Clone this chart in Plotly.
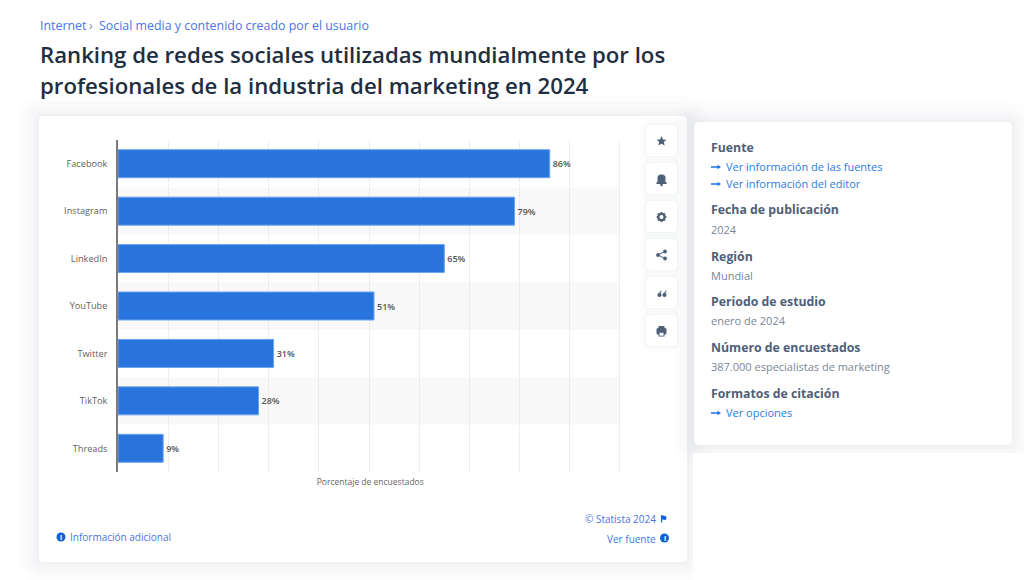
# Ranking de redes sociales - marketing 2024
import math
import plotly.graph_objects as go

W = 1024
H = 580

redes = ["Facebook", "Instagram", "LinkedIn", "YouTube", "Twitter", "TikTok", "Threads"]
porcentajes = [86, 79, 65, 51, 31, 28, 9]

titulo = ["Ranking de redes sociales utilizadas mundialmente por los",
          "profesionales de la industria del marketing en 2024"]

# (text, y on screen, kind)
ficha = [
    ("Fuente", 147, "h"),
    ("Ver información de las fuentes", 167, "l"),
    ("Ver información del editor", 184, "l"),
    ("Fecha de publicación", 210, "h"),
    ("2024", 229.5, "t"),
    ("Región", 256, "h"),
    ("Mundial", 275.5, "t"),
    ("Periodo de estudio", 301, "h"),
    ("enero de 2024", 321, "t"),
    ("Número de encuestados", 347, "h"),
    ("387.000 especialistas de marketing", 367, "t"),
    ("Formatos de citación", 393, "h"),
    ("Ver opciones", 413, "l"),
]

FONT = "Open Sans"
BLUE = "#2874dc"
LINK = "#4a74e4"
SLATE = "#4f6078"


def px(x):
    return x / W


def py(y):
    return 1 - y / H


def round_rect(x0, y0, x1, y1, r):
    # rounded box given in screen pixels
    return (
        f"M{px(x0 + r)},{py(y0)} L{px(x1 - r)},{py(y0)} Q{px(x1)},{py(y0)} {px(x1)},{py(y0 + r)} "
        f"L{px(x1)},{py(y1 - r)} Q{px(x1)},{py(y1)} {px(x1 - r)},{py(y1)} "
        f"L{px(x0 + r)},{py(y1)} Q{px(x0)},{py(y1)} {px(x0)},{py(y1 - r)} "
        f"L{px(x0)},{py(y0 + r)} Q{px(x0)},{py(y0)} {px(x0 + r)},{py(y0)} Z"
    )


def poly(points):
    return "M" + " L".join(f"{px(a)},{py(b)}" for a, b in points) + " Z"


def card(x0, y0, x1, y1, r=5, layers=((20, 0.012), (14, 0.014), (9, 0.016), (5, 0.018), (2, 0.02))):
    shapes = []
    # soft shadow, a few stacked boxes
    for s, alpha in layers:
        shapes.append(dict(type="path", path=round_rect(x0 - s, y0 - s, x1 + s, y1 + s, r + s),
                           xref="paper", yref="paper", layer="below", line_width=0,
                           fillcolor=f"rgba(60,80,120,{alpha})"))
    shapes.append(dict(type="path", path=round_rect(x0, y0, x1, y1, r), xref="paper", yref="paper",
                       layer="below", line_width=0, fillcolor="white"))
    return shapes


def icon(path, color=SLATE):
    return dict(type="path", path=path, xref="paper", yref="paper", layer="above",
                line_width=0, fillcolor=color)


def note(x, y, text, size, color, anchor="left", weight=None):
    # annotations carry about 2px of padding on their anchored side
    off = {"left": -2, "right": 2, "center": 0}[anchor]
    return dict(x=px(x + off), y=py(y), xref="paper", yref="paper", text=text, showarrow=False,
                xanchor=anchor, yanchor="middle", align=anchor,
                font=dict(family=FONT, size=size, color=color, weight=weight))


def circle_icon(x, y, r, color):
    return dict(type="circle", xref="paper", yref="paper", x0=px(x - r), x1=px(x + r),
                y0=py(y + r), y1=py(y - r), line_width=0, fillcolor=color, layer="above")


fig = go.Figure()

fig.add_trace(go.Bar(
    y=redes,
    x=porcentajes,
    orientation="h",
    marker=dict(color=BLUE, line=dict(color="#6ba3ee", width=1)),
    text=[f"{v}%" for v in porcentajes],
    textposition="outside",
    cliponaxis=False,
    textfont=dict(family=FONT, size=9, color="#555555", weight=600),
    hoverinfo="skip",
))

shapes = []
shapes += card(39, 116, 687, 562)
shapes += card(694, 122, 1012, 445)
# the area under the side panel stays plain white in the source page
shapes.append(dict(type="rect", xref="paper", yref="paper", x0=px(693), x1=1, y0=0, y1=py(453),
                   layer="below", line_width=0, fillcolor="white"))

# zebra rows behind the bars
for i in range(1, len(redes), 2):
    shapes.append(dict(type="rect", xref="x", yref="y", x0=0, x1=100, y0=i - 0.5, y1=i + 0.5,
                       layer="below", line_width=0, fillcolor="#f9f9fa"))

# toolbar buttons
button_y = [141, 179, 217, 255, 293, 331]
for by in button_y:
    shapes += card(646, by - 16, 677, by + 15, r=4, layers=((6, 0.008), (4, 0.012), (2, 0.016), (1, 0.02)))

sx, sy = 661.5, 141
shapes.append(icon(poly([(sx, sy - 5), (sx + 1.5, sy - 1.6), (sx + 5, sy - 1.3), (sx + 2.3, sy + 1),
                         (sx + 3.2, sy + 4.6), (sx, sy + 2.7), (sx - 3.2, sy + 4.6), (sx - 2.3, sy + 1),
                         (sx - 5, sy - 1.3), (sx - 1.5, sy - 1.6)])))
# bell
shapes.append(icon(round_rect(657.5, 174.5, 665.5, 184, 3.5)))
shapes.append(icon(poly([(656.5, 184), (666.5, 184), (666.5, 182), (656.5, 182)])))
shapes.append(circle_icon(661.5, 185, 1.3, SLATE))
# gear
gear = []
for k in range(16):
    a = k * math.pi / 8
    rad = 5.3 if k % 2 == 0 else 4.2
    gear.append((661.5 + rad * math.cos(a), 217 + rad * math.sin(a)))
shapes.append(icon(poly(gear)))
shapes.append(circle_icon(661.5, 217, 2, "white"))
# share
for cx, cy in ((665, 251.5), (658, 255), (665, 258.5)):
    shapes.append(circle_icon(cx, cy, 1.9, SLATE))
shapes.append(dict(type="path", path=f"M{px(665)},{py(251.5)} L{px(658)},{py(255)} L{px(665)},{py(258.5)}",
                   xref="paper", yref="paper", layer="above", line=dict(color=SLATE, width=1)))
# quotes
for qx in (657.5, 662.5):
    shapes.append(circle_icon(qx + 2, 295, 2.1, SLATE))
    shapes.append(icon(poly([(qx, 295), (qx + 3.8, 290), (qx + 3.8, 291.5), (qx + 2, 295)])))
# printer
shapes.append(icon(round_rect(656.5, 328, 666.5, 334.5, 1.5)))
shapes.append(icon(poly([(658.5, 326), (664.5, 326), (664.5, 328.5), (658.5, 328.5)])))
shapes.append(icon(poly([(658.5, 332), (664.5, 332), (664.5, 336.5), (658.5, 336.5)])))
shapes.append(icon(poly([(659.5, 332.8), (663.5, 332.8), (663.5, 335.7), (659.5, 335.7)]), "white"))

# info and flag icons in chart footer
shapes.append(circle_icon(61, 537, 4.5, "#0f62d6"))
shapes.append(circle_icon(664.5, 538, 4.5, "#0f62d6"))
shapes.append(icon(poly([(661, 515), (666.5, 516.5), (666, 520), (662.2, 519.5), (662.2, 522.5), (661, 522.5)]), "#0f62d6"))

annotations = [
    note(40, 26, "Internet", 12.4, LINK),
    note(89, 26, "›", 12.4, "#7a8aa0"),
    note(99, 26, "Social media y contenido creado por el usuario", 12.4, LINK),
    note(40, 54.5, titulo[0], 22.2, "#1f2e40", weight=600),
    note(40, 85, titulo[1], 22.2, "#1f2e40", weight=600),
    note(70, 537, "Información adicional", 10, LINK),
    note(656, 519, "© Statista 2024", 10, LINK, anchor="right"),
    note(656, 539, "Ver fuente", 10, LINK, anchor="right"),
    note(61, 537, "i", 7, "white", anchor="center", weight=700),
    note(664.5, 538, "i", 7, "white", anchor="center", weight=700),
]

for text, y, kind in ficha:
    if kind == "h":
        annotations.append(note(711, y, text, 12.3, SLATE, weight=700))
    elif kind == "t":
        annotations.append(note(711, y - 0.5, text, 11, "#7a8696"))
    else:
        annotations.append(note(726, y - 0.5, text, 11, "#2a7de1"))
        shapes.append(icon(poly([(711, y - 0.8), (717.5, y - 0.8), (717.5, y - 2.3), (721, y),
                                 (717.5, y + 2.3), (717.5, y + 0.8), (711, y + 0.8)]), "#1a73e8"))

fig.update_layout(
    width=W,
    height=H,
    margin=dict(l=0, r=0, t=0, b=0),
    paper_bgcolor="white",
    plot_bgcolor="rgba(0,0,0,0)",
    showlegend=False,
    bargap=0.41,
    shapes=shapes,
    annotations=annotations,
    font=dict(family=FONT),
    xaxis=dict(
        # range runs a little past 100 so plotly keeps the last grid line
        domain=[px(118), px(622.5)],
        range=[0, 100.5],
        dtick=10,
        showticklabels=False,
        ticks="",
        showgrid=True,
        gridcolor="#dedede",
        griddash="1px,1px",
        gridwidth=1,
        zeroline=False,
        title=dict(text="Porcentaje de encuestados", standoff=7,
                   font=dict(family=FONT, size=8.5, color="#666666")),
    ),
    yaxis=dict(
        domain=[py(472), py(140)],
        autorange="reversed",
        showgrid=False,
        zeroline=False,
        showline=True,
        linecolor="#7a7a7a",
        linewidth=1.5,
        ticks="",
        ticklabelstandoff=7,
        tickfont=dict(family=FONT, size=9.2, color="#5f5f5f"),
    ),
)

fig.write_html("out.html", config={"displayModeBar": False},
               post_script="document.body.style.margin='0';")
